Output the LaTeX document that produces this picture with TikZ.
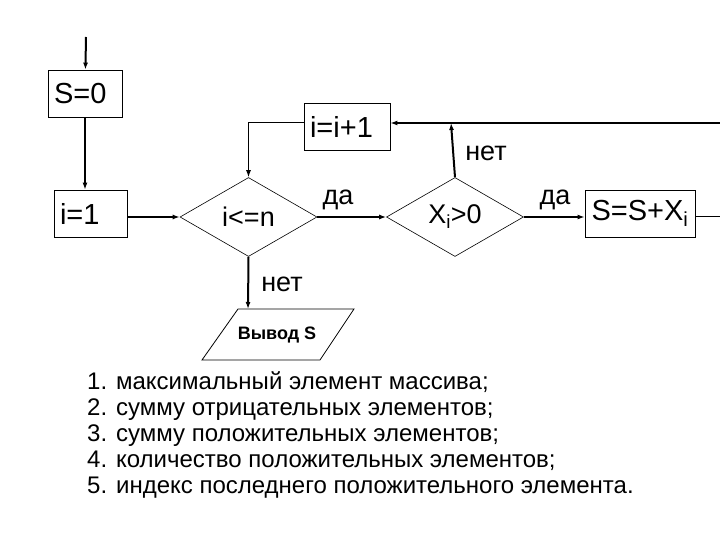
\documentclass[tikz,border=0pt]{standalone}
\usepackage{fontspec}
\setmainfont{Liberation Sans}
\usetikzlibrary{shapes.geometric,arrows.meta}
\tikzset{
  blk/.style={draw,line width=0.8pt,rectangle,minimum height=47pt,inner xsep=6pt,font=\fontsize{29}{31}\selectfont},
  cond/.style={draw,line width=0.6pt,diamond,aspect=1.73,inner sep=0pt,minimum width=137pt,minimum height=79pt,font=\fontsize{27}{29}\selectfont},
  lbl/.style={font=\fontsize{27}{29}\selectfont},
  thk/.style={line width=2pt,-{Latex[length=7pt,width=5pt]}},
  thn/.style={line width=1pt,-{Latex[length=7pt,width=5pt]}}
}
\begin{document}
\begin{tikzpicture}[x=1pt,y=-1pt]
\useasboundingbox[fill=white](0,0) rectangle (720,540);

\coordinate (in) at (86,37);
\node[blk,minimum width=74pt,text width=62pt,align=left] (s0) at (85,93.5) {S=0};
\node[blk,minimum width=73pt,text width=61pt,align=left] (i1) at (90.5,213.5) {i=1};
\node[cond] (cmp) at (248.5,217) {i<=n};
\node[cond] (pos) at (455,217) {X\textsubscript{i}>0};
\node[blk,minimum width=86pt,text width=74pt,align=left] (inc) at (347,127) {i=i+1};
\node[blk,minimum width=110pt] (add) at (640,213.5) {S=S+X\textsubscript{i}};

% output block
\node[font=\fontsize{18}{20}\bfseries] (out) at (277,335) {Вывод S};
\coordinate (outtop) at (248,309);
\draw[line width=0.8pt](202,360)--(238,309)--(354,309)--(320,360)--cycle;

\coordinate (eR) at (720,217);
\coordinate (eT) at (720,123);
\coordinate (j) at (451,123);

\draw[thk](in)--(s0);
\draw[thk](s0)--(s0|-i1.north);
\draw[thk](i1.east|-cmp)--(cmp.west);
\draw[thk](cmp.east)--(pos.west);
\draw[thk](pos.east)--(add.west|-pos);
\draw[thk](pos.north)--(j);
\draw[thk](eT)--(inc.east|-eT);
\draw[thn](inc.west|-eT)-|(cmp.north);
\draw[line width=1pt](add.east|-eR)--(eR);
\draw[thk](cmp.south)--(outtop);

\node[lbl] (da1) at (338,200) {да};
\node[lbl] (da2) at (555,200) {да};
\node[lbl] (net1) at (486,153) {нет};
\node[lbl] (net2) at (282,284) {нет};

\foreach \t [count=\k] in {максимальный элемент массива;,
  сумму отрицательных элементов;,
  сумму положительных элементов;,
  количество положительных элементов;,
  индекс последнего положительного элемента.}
  \node[anchor=base west,inner sep=0pt,font=\fontsize{24}{26}\selectfont] (item\k) at (87,{389+26*(\k-1)}) {\k. \t};
\end{tikzpicture}
\end{document}
